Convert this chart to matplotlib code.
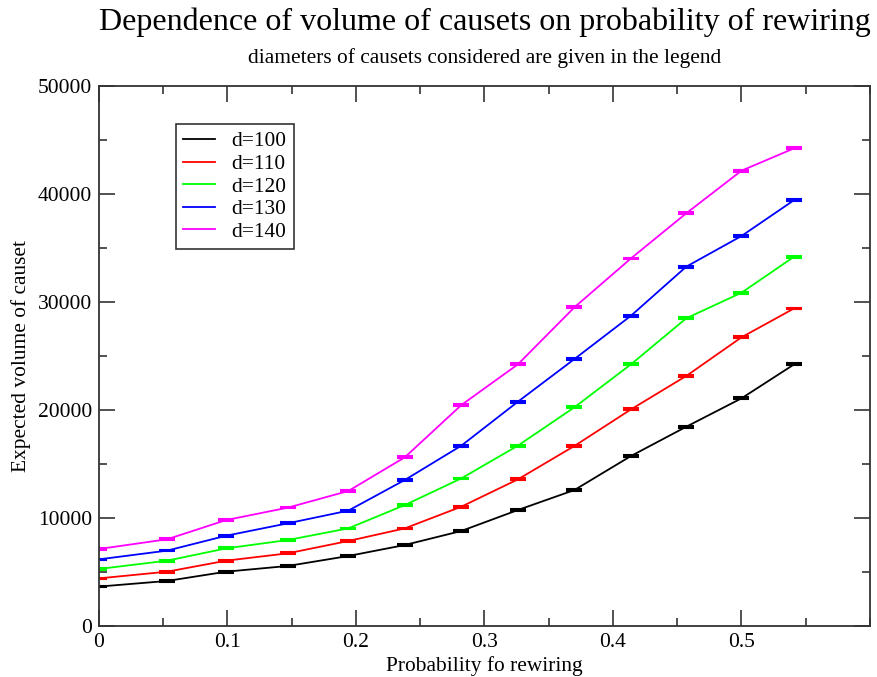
import matplotlib
matplotlib.use("Agg")
import matplotlib.pyplot as plt
from matplotlib.ticker import MultipleLocator
from matplotlib.lines import Line2D

plt.rcParams['font.family'] = ['Liberation Serif', 'DejaVu Serif']

# rewiring probabilities sampled
prob = [0.0, 0.053, 0.099, 0.147, 0.194, 0.238, 0.282, 0.326, 0.370, 0.414, 0.457, 0.500, 0.541]

# expected causet volume for each diameter
vol_d100 = [3650, 4170, 5030, 5560, 6480, 7500, 8800, 10740, 12590, 15740, 18450, 21080, 24230]
vol_d110 = [4410, 5030, 6050, 6730, 7870, 9040, 11050, 13580, 16670, 20060, 23150, 26730, 29410]
vol_d120 = [5280, 6050, 7190, 7960, 9040, 11200, 13670, 16700, 20250, 24230, 28490, 30860, 34200]
vol_d130 = [6170, 6980, 8360, 9510, 10680, 13520, 16700, 20770, 24720, 28730, 33270, 36110, 39440]
vol_d140 = [7130, 8030, 9810, 10960, 12500, 15620, 20460, 24230, 29510, 34040, 38210, 42160, 44230]

# standard errors (small relative to the volumes)
err = 80

labels = ["d=100", "d=110", "d=120", "d=130", "d=140"]
colors = ["#000000", "#ff0000", "#00ff00", "#0000ff", "#ff00ff"]
series = [vol_d100, vol_d110, vol_d120, vol_d130, vol_d140]

fig = plt.figure(figsize=(8.78, 6.77), dpi=100)
ax = fig.add_axes([99 / 878, 1 - 626 / 677, 771 / 878, 540 / 677])

for vals, col in zip(series, colors):
    ax.errorbar(prob, vals, yerr=err, color=col, lw=1.3, elinewidth=1.3,
                capsize=5.5, capthick=1.5)

ax.set_xlim(0, 0.6)
ax.set_ylim(0, 50000)
ax.xaxis.set_major_locator(MultipleLocator(0.1))
ax.xaxis.set_minor_locator(MultipleLocator(0.05))
ax.yaxis.set_major_locator(MultipleLocator(10000))
ax.yaxis.set_minor_locator(MultipleLocator(5000))
ax.set_xticks([0, 0.1, 0.2, 0.3, 0.4, 0.5])
ax.set_xticklabels(["0", "0.1", "0.2", "0.3", "0.4", "0.5"])

ax.tick_params(which='both', direction='in', top=True, right=True,
               labelsize=15.5, color='#333333', width=1.2, pad=5)
ax.tick_params(which='major', length=11.5)
ax.tick_params(which='minor', length=6)
for sp in ax.spines.values():
    sp.set_linewidth(1.3)
    sp.set_color('#333333')

ax.set_xlabel("Probability fo rewiring", fontsize=15.4, labelpad=3)
ax.set_ylabel("Expected volume of causet", fontsize=15.4, labelpad=5)

fig.text(484.5 / 878, 1 - 22 / 677, "Dependence of volume of causets on probability of rewiring",
         ha='center', va='center', fontsize=23)
fig.text(484.5 / 878, 1 - 58 / 677, "diameters of causets considered are given in the legend",
         ha='center', va='center', fontsize=15.4)

handles = [Line2D([], [], color=c, lw=1.3) for c in colors]
leg = ax.legend(handles, labels, loc='upper left',
                bbox_to_anchor=((175.7 - 99) / 771, (626 - 124) / 540),
                borderaxespad=0, fontsize=15.4, frameon=True, fancybox=False,
                edgecolor='#333333', framealpha=1, handlelength=1.5,
                handletextpad=0.75, labelspacing=0.12, borderpad=0.35)
leg.get_frame().set_linewidth(1.2)

fig.savefig("out.png", dpi=100)
